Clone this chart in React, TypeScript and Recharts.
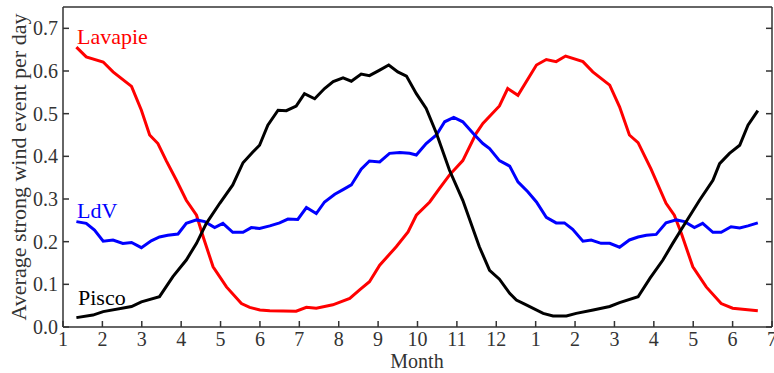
import React from 'react';
import { LineChart, Line, XAxis, YAxis } from 'recharts';

// months counted from January of the first year (13 = January of the next year)
const lavapieMonth = [
  1.34, 1.59, 2.02, 2.27, 2.74, 2.99, 3.2, 3.41, 3.62, 3.88, 4.13, 4.39, 4.56, 4.81, 5.15, 5.53, 5.74, 6.0,
  6.25, 6.92, 7.18, 7.43, 7.85, 8.28, 8.53, 8.78, 9.04, 9.46, 9.76, 9.97, 10.31, 10.56, 10.81, 11.15, 11.49,
  11.66, 12.08, 12.29, 12.55, 13.02, 13.27, 13.52, 13.76, 14.2, 14.45, 14.88, 15.13, 15.38, 15.6, 15.93,
  16.31, 16.52, 16.7, 16.99, 17.33, 17.71, 18.0, 18.64,
];
const lavapieValue = [
  0.656, 0.633, 0.621, 0.598, 0.564, 0.508, 0.45, 0.43, 0.39, 0.344, 0.297, 0.262, 0.211, 0.141, 0.094, 0.055,
  0.046, 0.04, 0.038, 0.037, 0.046, 0.044, 0.052, 0.067, 0.087, 0.106, 0.145, 0.188, 0.223, 0.262, 0.293,
  0.325, 0.356, 0.39, 0.454, 0.477, 0.518, 0.559, 0.543, 0.614, 0.627, 0.622, 0.635, 0.622, 0.598, 0.567,
  0.516, 0.45, 0.432, 0.37, 0.29, 0.262, 0.219, 0.141, 0.094, 0.055, 0.044, 0.038,
];

const piscoMonth = [
  1.34, 1.76, 2.02, 2.74, 2.99, 3.45, 3.79, 4.13, 4.39, 4.64, 4.98, 5.31, 5.57, 5.82, 5.99, 6.2, 6.46, 6.67,
  6.92, 7.13, 7.39, 7.64, 7.86, 8.11, 8.32, 8.57, 8.78, 9.04, 9.27, 9.5, 9.72, 9.97, 10.22, 10.48, 10.81,
  11.15, 11.57, 11.83, 12.08, 12.34, 12.51, 12.76, 13.19, 13.44, 13.78, 14.03, 14.46, 14.88, 15.13, 15.6,
  15.9, 16.23, 16.48, 16.74, 17.16, 17.5, 17.67, 17.92, 18.18, 18.39, 18.64,
];
const piscoValue = [
  0.022, 0.028, 0.036, 0.048, 0.059, 0.071, 0.118, 0.157, 0.196, 0.243, 0.29, 0.333, 0.385, 0.41, 0.426,
  0.473, 0.508, 0.507, 0.518, 0.547, 0.535, 0.559, 0.575, 0.584, 0.576, 0.593, 0.589, 0.602, 0.614, 0.598,
  0.588, 0.547, 0.512, 0.454, 0.368, 0.297, 0.188, 0.133, 0.112, 0.079, 0.063, 0.052, 0.032, 0.026, 0.026,
  0.032, 0.04, 0.048, 0.057, 0.071, 0.114, 0.157, 0.196, 0.235, 0.297, 0.344, 0.383, 0.407, 0.426, 0.473,
  0.507,
];

const ldvMonth = [
  1.34, 1.59, 1.8, 2.02, 2.27, 2.52, 2.74, 2.99, 3.24, 3.45, 3.66, 3.92, 4.13, 4.39, 4.6, 4.85, 5.06, 5.31,
  5.57, 5.78, 5.99, 6.25, 6.5, 6.71, 6.96, 7.18, 7.43, 7.64, 7.9, 8.11, 8.32, 8.57, 8.78, 9.04, 9.29, 9.55,
  9.8, 9.97, 10.22, 10.48, 10.69, 10.92, 11.15, 11.41, 11.66, 11.83, 12.08, 12.34, 12.55, 12.8, 13.02, 13.27,
  13.52, 13.73, 13.94, 14.2, 14.41, 14.66, 14.88, 15.13, 15.38, 15.6, 15.81, 16.06, 16.31, 16.57, 16.78,
  17.03, 17.24, 17.5, 17.71, 17.96, 18.18, 18.39, 18.64,
];
const ldvValue = [
  0.247, 0.243, 0.227, 0.201, 0.204, 0.196, 0.198, 0.186, 0.202, 0.211, 0.215, 0.218, 0.243, 0.251, 0.247,
  0.233, 0.243, 0.222, 0.222, 0.233, 0.231, 0.237, 0.244, 0.253, 0.252, 0.28, 0.266, 0.293, 0.311, 0.322,
  0.333, 0.37, 0.389, 0.387, 0.407, 0.409, 0.407, 0.403, 0.43, 0.45, 0.481, 0.491, 0.481, 0.454, 0.43, 0.418,
  0.39, 0.377, 0.34, 0.317, 0.293, 0.257, 0.244, 0.244, 0.229, 0.201, 0.204, 0.196, 0.196, 0.187, 0.204,
  0.211, 0.215, 0.217, 0.244, 0.251, 0.247, 0.233, 0.243, 0.222, 0.222, 0.235, 0.232, 0.237, 0.244,
];

const monthTicks = [1, 2, 3, 4, 5, 6, 7, 8, 9, 10, 11, 12, 13, 14, 15, 16, 17, 18, 19];
const monthLabels = ['1', '2', '3', '4', '5', '6', '7', '8', '9', '10', '11', '12', '1', '2', '3', '4', '5', '6', '7'];
const valueTicks = [0, 0.1, 0.2, 0.3, 0.4, 0.5, 0.6, 0.7];

const toRows = (months: number[], values: number[]) => months.map((m, i) => ({ month: m, value: values[i] }));
const lavapie = toRows(lavapieMonth, lavapieValue);
const pisco = toRows(piscoMonth, piscoValue);
const ldv = toRows(ldvMonth, ldvValue);

const FONT = '"Liberation Serif", "DejaVu Serif", serif';
const INK = '#333';
const TICK = 6;

const BottomTick = ({ x, y, index }: any) => (
  <g>
    <line x1={x} y1={y} x2={x} y2={y - TICK} stroke={INK} strokeWidth={1.5} />
    <text x={x} y={y + 19} textAnchor="middle" fontFamily={FONT} fontSize={20} fill={INK}>
      {monthLabels[index]}
    </text>
  </g>
);

const TopTick = ({ x, y }: any) => (
  <line x1={x} y1={y} x2={x} y2={y + TICK} stroke={INK} strokeWidth={1.5} />
);

const LeftTick = ({ x, y, payload }: any) => (
  <g>
    <line x1={x} y1={y} x2={x + TICK} y2={y} stroke={INK} strokeWidth={1.5} />
    <text x={x - 5} y={y + 7} textAnchor="end" fontFamily={FONT} fontSize={20} fill={INK}>
      {Number(payload.value).toFixed(1)}
    </text>
  </g>
);

const RightTick = ({ x, y }: any) => (
  <line x1={x} y1={y} x2={x - TICK} y2={y} stroke={INK} strokeWidth={1.5} />
);

const axisLine = { stroke: INK, strokeWidth: 1.5 };

export default function App() {
  return (
    <div style={{ position: 'absolute', left: 0, top: 0, background: '#fff' }}>
      <LineChart width={774} height={373} margin={{ top: 6, right: 0, bottom: 0, left: 0 }}>
        <XAxis
          dataKey="month"
          type="number"
          domain={[1, 19]}
          ticks={monthTicks}
          interval={0}
          allowDataOverflow
          height={46}
          tickSize={0}
          tickMargin={0}
          tickLine={false}
          axisLine={axisLine}
          tick={<BottomTick />}
        />
        <XAxis
          xAxisId="top"
          orientation="top"
          type="number"
          domain={[1, 19]}
          ticks={monthTicks}
          interval={0}
          allowDataOverflow
          height={1}
          tickSize={0}
          tickMargin={0}
          tickLine={false}
          axisLine={axisLine}
          tick={<TopTick />}
        />
        <YAxis
          type="number"
          domain={[0, 0.75]}
          ticks={valueTicks}
          interval={0}
          allowDataOverflow
          width={63}
          tickSize={0}
          tickMargin={0}
          tickLine={false}
          axisLine={axisLine}
          tick={<LeftTick />}
        />
        <YAxis
          yAxisId="right"
          orientation="right"
          type="number"
          domain={[0, 0.75]}
          ticks={valueTicks}
          interval={0}
          allowDataOverflow
          width={2}
          tickSize={0}
          tickMargin={0}
          tickLine={false}
          axisLine={axisLine}
          tick={<RightTick />}
        />
        <Line data={lavapie} dataKey="value" type="linear" stroke="#ff0000" strokeWidth={3} dot={false} isAnimationActive={false} />
        <Line data={ldv} dataKey="value" type="linear" stroke="#0000ff" strokeWidth={3} dot={false} isAnimationActive={false} />
        <Line data={pisco} dataKey="value" type="linear" stroke="#000000" strokeWidth={3} dot={false} isAnimationActive={false} />
        <text x={77} y={44} fontFamily={FONT} fontSize={22} fill="#ff0000">Lavapie</text>
        <text x={77} y={218} fontFamily={FONT} fontSize={22} fill="#0000ff">LdV</text>
        <text x={78} y={305} fontFamily={FONT} fontSize={22} fill="#000000">Pisco</text>
        <text
          x={26}
          y={167}
          transform="rotate(-90 26 167)"
          textAnchor="middle"
          fontFamily={FONT}
          fontSize={22}
          fill={INK}
        >
          Average strong wind event per day
        </text>
        <text x={417} y={368} textAnchor="middle" fontFamily={FONT} fontSize={20} fill={INK}>Month</text>
      </LineChart>
    </div>
  );
}
